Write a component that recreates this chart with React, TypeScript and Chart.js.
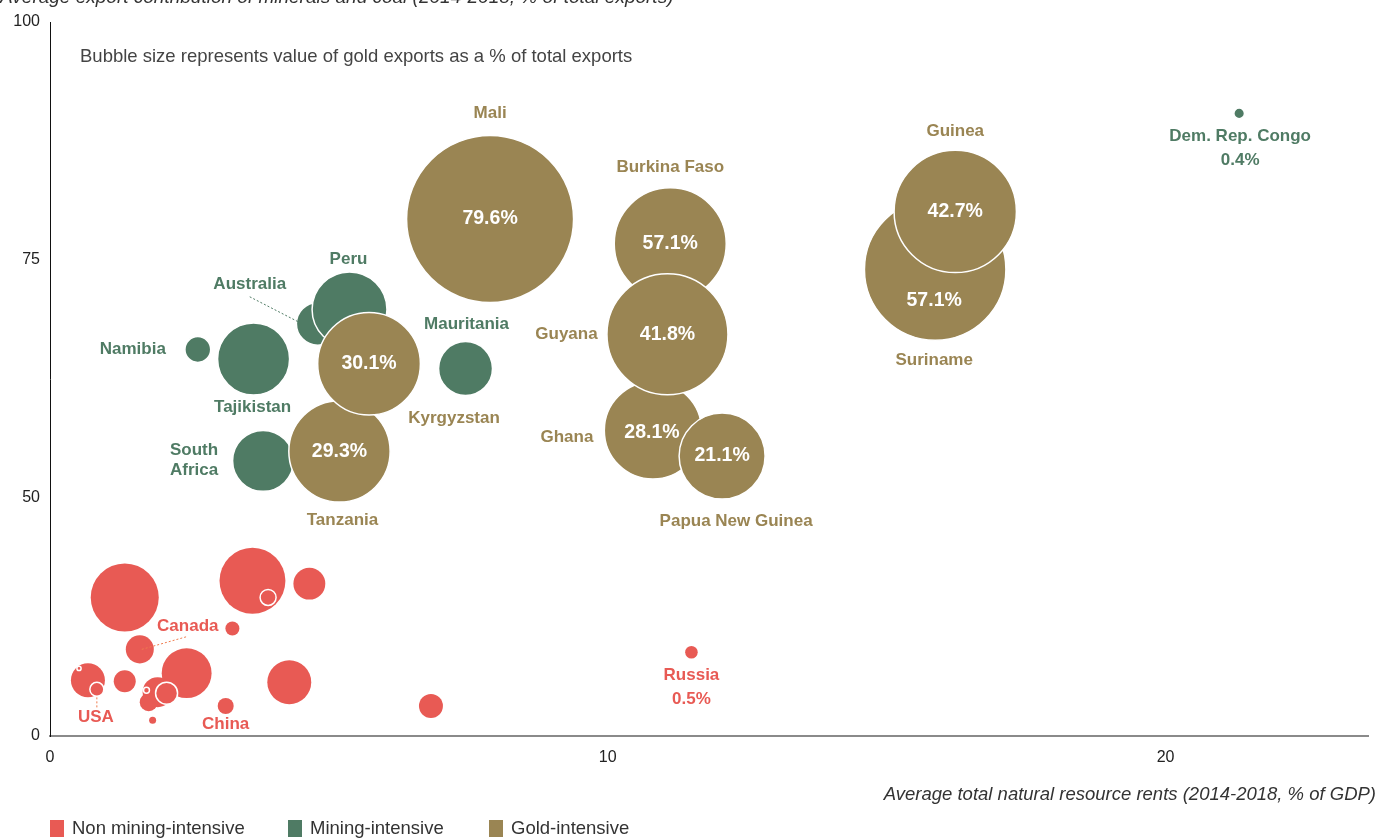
import React, { useEffect, useRef } from 'react';
import { Chart, registerables, LinearScale } from 'chart.js';

// ---------------- DATA ----------------
// Non mining-intensive countries
const nonMiningNames = ['', '', '', '', 'Canada', '', '', '', '', '', '', 'China', '', '', 'Russia', '', 'USA', '', '', ''];
const nonMiningRents = [1.34, 3.63, 4.65, 3.27, 1.61, 0.68, 1.34, 2.45, 1.93, 1.77, 1.84, 3.15, 4.29, 6.83, 11.5, 3.91, 0.84, 0.52, 1.73, 2.09];
const nonMiningExports = [29.1, 32.6, 32.0, 22.6, 18.2, 11.7, 11.5, 13.2, 9.2, 7.1, 3.3, 6.3, 11.3, 6.3, 17.6, 29.1, 9.8, 14.2, 9.6, 9.0];
const nonMiningGold = [13.2, 12.4, 2.9, 0.56, 2.24, 3.3, 1.38, 7.1, 2.57, 0.92, 0.14, 0.73, 5.5, 1.64, 0.45, 0.73, 0.56, 0.05, 0.1, 1.38];

// Mining-intensive countries
const miningNames = ['Namibia', 'Tajikistan', 'Australia', 'Peru', 'Mauritania', 'South Africa', 'Dem. Rep. Congo'];
const miningRents = [2.65, 3.65, 4.8, 5.37, 7.45, 3.82, 21.32];
const miningExports = [65.6, 64.6, 68.3, 69.8, 63.6, 53.9, 90.4];
const miningGold = [1.9, 14.8, 5.2, 16.0, 8.3, 10.6, 0.32];

// Gold-intensive countries
const goldNames = ['Mali', 'Burkina Faso', 'Ghana', 'Guyana', 'Papua New Guinea', 'Suriname', 'Guinea', 'Tanzania', 'Kyrgyzstan'];
const goldRents = [7.89, 11.12, 10.81, 11.07, 12.05, 15.87, 16.23, 5.19, 5.72];
const goldExports = [79.3, 76.7, 57.1, 67.2, 54.4, 74.0, 80.1, 54.9, 64.1];
const goldGold = [79.6, 35.8, 27.0, 41.8, 21.1, 57.1, 42.7, 29.3, 30.1];
const goldPctLabels = ['79.6%', '57.1%', '28.1%', '41.8%', '21.1%', '57.1%', '42.7%', '29.3%', '30.1%'];

const yTickValues = [0, 50, 75, 100];
const xTickStep = 10;

const seriesLabels = ['Non mining-intensive', 'Mining-intensive', 'Gold-intensive'];

// ---------------- STYLE ----------------
const RED = '#e85a54';
const GREEN = '#4f7b64';
const GOLD = '#9a8553';
const FONT = "'Liberation Sans', Arial, sans-serif";
const BUBBLE_K = 9.36;

// y axis is compressed below 50 and expanded above it
const warp = (v: number) => (v <= 50 ? v / 2 : v - 25);
const unwarp = (t: number) => (t <= 25 ? t * 2 : t + 25);

class BrokenLinearScale extends LinearScale {
  static id = 'brokenLinear';
  static defaults = LinearScale.defaults;
  getPixelForValue(value: number) {
    return this.getPixelForDecimal(warp(value) / warp(this.max));
  }
  getValueForPixel(pixel: number) {
    return unwarp(this.getDecimalForPixel(pixel) * warp(this.max));
  }
}

Chart.register(...registerables, BrokenLinearScale);

type Ann = { ds: number; i: number; lines: string[]; dx: number; dy: number; lh?: number };
const nameAnnotations: Ann[] = [
  { ds: 2, i: 0, lines: [goldNames[0]], dx: 0, dy: -106 },
  { ds: 2, i: 1, lines: [goldNames[1]], dx: 0, dy: -77 },
  { ds: 2, i: 3, lines: [goldNames[3]], dx: -101, dy: 0 },
  { ds: 2, i: 2, lines: [goldNames[2]], dx: -86, dy: 7 },
  { ds: 2, i: 4, lines: [goldNames[4]], dx: 14, dy: 65 },
  { ds: 2, i: 6, lines: [goldNames[6]], dx: 0, dy: -80 },
  { ds: 2, i: 5, lines: [goldNames[5]], dx: -1, dy: 91 },
  { ds: 2, i: 8, lines: [goldNames[8]], dx: 85, dy: 55 },
  { ds: 2, i: 7, lines: [goldNames[7]], dx: 3, dy: 69 },
  { ds: 1, i: 3, lines: [miningNames[3]], dx: -1, dy: -50 },
  { ds: 1, i: 2, lines: [miningNames[2]], dx: -68, dy: -39 },
  { ds: 1, i: 0, lines: [miningNames[0]], dx: -65, dy: 0 },
  { ds: 1, i: 1, lines: [miningNames[1]], dx: -1, dy: 48 },
  { ds: 1, i: 4, lines: [miningNames[4]], dx: 1, dy: -44 },
  { ds: 1, i: 5, lines: ['South', 'Africa'], dx: -69, dy: -11, lh: 20 },
  { ds: 1, i: 6, lines: [miningNames[6], '0.4%'], dx: 1, dy: 23, lh: 24 },
  { ds: 0, i: 4, lines: [nonMiningNames[4]], dx: 48, dy: -23 },
  { ds: 0, i: 16, lines: [nonMiningNames[16]], dx: -1, dy: 28 },
  { ds: 0, i: 11, lines: [nonMiningNames[11]], dx: 0, dy: 18 },
  { ds: 0, i: 14, lines: [nonMiningNames[14], '0.5%'], dx: 0, dy: 23, lh: 24 },
];
const leaderLines = [
  { ds: 1, i: 2, x1: -68, y1: -27, x2: -6, y2: 5, color: GREEN },
  { ds: 0, i: 4, x1: 2, y1: 0, x2: 48, y2: -13, color: '#ef7b4e' },
  { ds: 0, i: 16, x1: 0, y1: 8, x2: 0, y2: 19, color: '#ef7b4e' },
];
const pctOffsets: Record<number, [number, number]> = { 2: [-1, 2], 5: [-1, 31] };

const seriesColors = [RED, GREEN, GOLD];

const labelsPlugin = {
  id: 'labelsPlugin',
  afterDatasetsDraw(chart: any) {
    const ctx = chart.ctx as CanvasRenderingContext2D;
    ctx.save();
    leaderLines.forEach((l) => {
      const el = chart.getDatasetMeta(l.ds).data[l.i];
      ctx.strokeStyle = l.color;
      ctx.lineWidth = 1;
      ctx.setLineDash([2, 2]);
      ctx.beginPath();
      ctx.moveTo(el.x + l.x1, el.y + l.y1);
      ctx.lineTo(el.x + l.x2, el.y + l.y2);
      ctx.stroke();
    });
    ctx.setLineDash([]);
    ctx.fillStyle = '#ffffff';
    ctx.font = `bold 19.5px ${FONT}`;
    ctx.textAlign = 'center';
    ctx.textBaseline = 'middle';
    const goldMeta = chart.getDatasetMeta(2);
    goldPctLabels.forEach((t, i) => {
      const el = goldMeta.data[i];
      const off = pctOffsets[i] || [0, 0];
      ctx.fillText(t, el.x + off[0], el.y + off[1]);
    });
    ctx.font = `bold 17px ${FONT}`;
    nameAnnotations.forEach((a) => {
      const el = chart.getDatasetMeta(a.ds).data[a.i];
      ctx.fillStyle = seriesColors[a.ds];
      ctx.textAlign = 'center';
      a.lines.forEach((line, k) => {
        ctx.fillText(line, el.x + a.dx, el.y + a.dy + k * (a.lh || 20));
      });
    });
    ctx.restore();
  },
  afterDraw(chart: any) {
    const ctx = chart.ctx as CanvasRenderingContext2D;
    ctx.save();
    ctx.fillStyle = '#333';
    ctx.font = `italic 19px ${FONT}`;
    ctx.textAlign = 'left';
    ctx.textBaseline = 'alphabetic';
    ctx.fillText('Average export contribution of minerals and coal (2014-2018, % of total exports)', 0, 3);
    ctx.font = `18.5px ${FONT}`;
    ctx.fillStyle = '#444';
    ctx.textBaseline = 'middle';
    ctx.fillText('Bubble size represents value of gold exports as a % of total exports', 80, 57);
    ctx.font = `italic 18.5px ${FONT}`;
    ctx.fillStyle = '#333';
    ctx.textAlign = 'right';
    ctx.fillText('Average total natural resource rents (2014-2018, % of GDP)', 1376, 795);
    const legendX = [50, 288, 489];
    ctx.textAlign = 'left';
    ctx.font = `18.5px ${FONT}`;
    seriesLabels.forEach((lab, k) => {
      ctx.fillStyle = seriesColors[k];
      ctx.fillRect(legendX[k], 820, 14, 17);
      ctx.fillStyle = '#333';
      ctx.fillText(lab, legendX[k] + 22, 829);
    });
    ctx.restore();
  },
};

const toPoints = (xs: number[], ys: number[], sizes: number[]) =>
  xs.map((x, i) => ({ x, y: ys[i], r: BUBBLE_K * Math.sqrt(sizes[i]) }));

const redOutlined = [15, 16, 17, 18, 19];

export default function App() {
  const canvasRef = useRef<HTMLCanvasElement | null>(null);

  useEffect(() => {
    if (!canvasRef.current) return;
    const chart = new Chart(canvasRef.current, {
      type: 'bubble',
      data: {
        datasets: [
          {
            label: seriesLabels[0],
            data: toPoints(nonMiningRents, nonMiningExports, nonMiningGold),
            backgroundColor: RED,
            borderColor: '#ffffff',
            borderWidth: (c: any) => (redOutlined.includes(c.dataIndex) ? 1.5 : 0),
            order: 2,
            clip: false as any,
          },
          {
            label: seriesLabels[1],
            data: toPoints(miningRents, miningExports, miningGold),
            backgroundColor: GREEN,
            borderColor: '#ffffff',
            borderWidth: 1.5,
            order: 1,
            clip: false as any,
          },
          {
            label: seriesLabels[2],
            data: toPoints(goldRents, goldExports, goldGold),
            backgroundColor: GOLD,
            borderColor: '#ffffff',
            borderWidth: 1.5,
            order: 0,
            clip: false as any,
          },
        ],
      },
      options: {
        responsive: false,
        animation: false,
        layout: { autoPadding: false, padding: { top: 22, right: 8, bottom: 0, left: 0 } },
        plugins: {
          legend: { display: false },
          tooltip: { enabled: false },
        },
        scales: {
          x: {
            type: 'linear',
            min: 0,
            max: 23.63,
            grid: { display: false, drawTicks: false },
            border: { color: '#8a8a8a', width: 2 },
            ticks: {
              stepSize: xTickStep,
              padding: 12,
              color: '#222',
              font: { family: FONT, size: 16 },
              callback: (v: any) => (Number(v) % xTickStep === 0 ? String(v) : ''),
            },
            afterFit: (s: any) => {
              s.height = 104;
            },
          },
          y: {
            type: 'brokenLinear' as any,
            min: 0,
            max: 100,
            grid: { display: false, drawTicks: false },
            border: { color: '#111', width: 1 },
            ticks: {
              padding: 10,
              color: '#222',
              font: { family: FONT, size: 16 },
            },
            afterBuildTicks: (s: any) => {
              s.ticks = yTickValues.map((v) => ({ value: v }));
            },
            afterFit: (s: any) => {
              s.width = 50;
            },
          } as any,
        },
      },
      plugins: [labelsPlugin],
    });
    return () => chart.destroy();
  }, []);

  return (
    <div style={{ position: 'absolute', left: 0, top: 0, width: 1380, height: 840, background: '#fff' }}>
      <canvas ref={canvasRef} width={1380} height={840} />
    </div>
  );
}
